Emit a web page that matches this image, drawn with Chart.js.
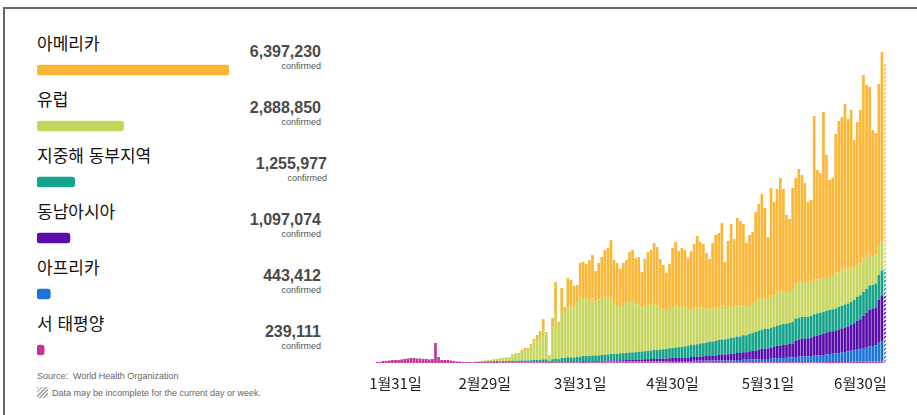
<!DOCTYPE html>
<html lang="ko">
<head>
<meta charset="utf-8">
<script src="https://cdn.jsdelivr.net/npm/chart.js@4.4.1/dist/chart.umd.min.js"></script>
<style>
  body { margin: 0; width: 917px; height: 415px; background: #fff; overflow: hidden; position: relative;
         font-family: "Noto Sans CJK KR", "Noto Sans", sans-serif; }
  #frame { position: absolute; left: 3px; top: 7px; width: 914px; height: 410px;
           border-top: 2px solid #666; border-left: 2px solid #666; box-sizing: border-box; }
  .region { position: absolute; left: 37px; font-size: 17px; line-height: 20px; color: #111; white-space: nowrap; }
  .total { position: absolute; left: 0; text-align: right; font: bold 16px "Liberation Sans", Arial, sans-serif;
           line-height: 18px; color: #4a4a4a; }
  .conf { position: absolute; left: 0; text-align: right; font: 9px "Liberation Sans", Arial, sans-serif;
          line-height: 10px; color: #555; }
  #source { position: absolute; left: 37px; top: 371px; font: 9px "Liberation Sans", Arial, sans-serif; color: #666; }
  #note { position: absolute; left: 37px; top: 387px; font: 9px "Liberation Sans", Arial, sans-serif; color: #666; }
  #note i { display: inline-block; width: 11px; height: 11px; vertical-align: -2px; margin-right: 4px;
            background: repeating-linear-gradient(135deg, #aaa 0 1.2px, #eee 1.2px 3px); }
  #totals { position: absolute; left: 37px; top: 42px; }
  #daily { position: absolute; left: 366px; top: 40px; }
</style>
</head>
<body>
<div id="frame"></div>
<div id="panel"></div>
<div id="source">Source:&nbsp; World Health Organization</div>
<div id="note"><i></i>Data may be incomplete for the current day or week.</div>
<canvas id="totals" width="192" height="336"></canvas>
<canvas id="daily" width="530" height="363"></canvas>
<script>
// 지역별 누적 확진자
const regions = ['아메리카', '유럽', '지중해 동부지역', '동남아시아', '아프리카', '서 태평양'];
const totals = [6397230, 2888850, 1255977, 1097074, 443412, 239111];
const colors = ['#FCB634', '#C6D55E', '#15A38B', '#5A0DAA', '#1C74D9', '#C2349A'];

// 일별 신규 확진 (1월25일 ~ 7월8일, 그림에서 읽은 값)
const startDay = new Date(2020, 0, 25);
const tickLabels = ['1월31일', '2월29일', '3월31일', '4월30일', '5월31일', '6월30일'];

const westernPacific = [
  1,1,2,2,2.5,3,3,3,3.5,4, 4.5,5,5,4.5,4.5,4,4,3.5,4,20,
  6,3,3,3,2.5,2,1.5,1.5,1,1, 1,0.8,1,1,1,1,1,1,1,1,
  0.8,0.8,0.8,0.8,0.8,0.8,0.8,0.8,0.8,0.7, 0.7,0.7,0.7,0.7,0.7,0.7,0.5,0.7,0.8,0.7,
  0.8,0.8,0.9,0.8,0.8,0.7,0.8,0.9,0.8,0.8, 0.8,0.8,0.7,0.8,0.9,0.8,0.8,0.8,0.7,0.8,
  0.8,0.9,0.8,0.8,0.8,0.7,0.8,0.8,0.9,0.8, 0.8,0.8,0.8,0.7,0.8,0.8,0.9,0.8,0.8,0.8,
  0.8,0.7,0.8,0.8,0.8,0.9,0.8,0.8,0.8,0.8, 0.7,0.8,0.8,0.9,0.8,0.8,0.8,0.8,0.7,0.8,
  0.8,0.8,0.9,0.8,0.8,0.8,0.7,0.8,0.8,0.8, 0.9,0.8,0.8,0.8,0.8,0.7,0.8,0.8,0.9,0.8,
  0.8,0.8,0.8,0.8,0.8,0.8,1,1,1,1, 1,1,1,1,1.2,1.2,1.2,1.2,1.2,1.2,
  1.5,1.5,1.5,1.5,1.5,1.5
];
const africa = [
  0,0,0,0,0,0,0,0,0,0, 0,0,0,0,0,0,0,0,0,0, 0,0,0,0,0,0,0,0,0,0,
  0,0,0,0,0,0,0,0,0,0, 0,0,0,0,0,0,0,0,0,0,
  0.1,0.1,0.1,0.1,0.1,0.1,0.1,0.2,0.2,0.2, 0.3,0.3,0.3,0.3,0.3,0.3,0.4,0.4,0.4,0.4,
  0.5,0.5,0.5,0.5,0.5,0.6,0.6,0.6,0.6,0.7, 0.7,0.7,0.7,0.8,0.8,0.8,0.8,0.9,0.9,0.9,
  1,1,1,1,1,1.1,1.1,1.1,1.2,1.2, 1.2,1.3,1.3,1.4,1.4,1.5,1.5,1.6,1.6,1.7,
  1.7,1.8,1.8,1.8,1.9,2,2,2.2,2.2,2.4, 2.4,2.6,2.6,2.8,3,3.2,3.2,3.3,3.5,3.7,
  4,4,4.2,4.4,4.6,4.8,5.2,5.4,5.6,5.8, 6,6.2,6.5,6.8,7,7.3,7.6,8,8.3,8.6,
  9,9.5,10,10.5,11,11.5,12,12.5,13,14, 15,15.5,16,19.5,20,21
];
const southEastAsia = [
  0,0,0,0,0,0,0,0,0,0, 0,0,0,0,0,0,0,0,0,0, 0,0,0,0,0,0,0,0,0,0,
  0,0,0,0,0,0,0,0,0,0, 0,0,0,0,0,0,0,0,0,0,
  0.1,0.2,0.2,0.3,0.3,0.3,0.2,0.3,0.3,0.3, 0.4,0.4,0.5,0.5,0.5,0.5,0.6,0.6,0.7,0.7,
  0.7,0.7,0.8,0.8,0.8,1,1,1,1.2,1.2, 1.3,1.5,1.5,1.5,1.6,1.7,1.8,2,2,2.2,
  2.3,2.4,2.5,2.5,2.6,2.8,3,3,3.2,3.3, 3.5,3.5,3.8,4,4,4.2,4.5,4.5,4.8,5,
  5.2,5.5,5.8,5.8,6,6.5,6.5,7,7,7.5, 7.5,8,8.5,9,9.5,10,10.5,10.5,11,11.5,
  12,12.5,13,13,13.5,14,16.5,17,17.5,18, 18,18.5,19.5,20,20.5,21,21.5,22,22.5,23,
  23.5,24,24.5,25,26,27,29,30,33,35, 37,37,38,42,46,47
];
const easternMed = [
  0,0,0,0,0,0,0,0,0,0, 0,0,0,0,0,0,0,0,0,0, 0,0,0,0,0,0,0,0,0,0,
  0,0,0.3,0.3,0.5,0.5,0.7,0.8,1,1, 1,1.2,1.2,1.2,1.5,1.5,1.5,1.7,1.7,1.8,
  1.8,2,2,2,2.3,2.3,1.5,2.5,3,2.5, 3.5,3.5,4,4,4,4.5,4.5,5,5,5,
  5.5,5.5,5.5,6,6,6,6.5,6.5,6.5,7, 7,7,7.5,7.5,7.5,8,8,8,8.5,8.5,
  9,9,9,9.5,9.5,10,10,10.5,10.5,11, 11,11.5,12,12,12.5,13,13,13.5,14,14,
  14.5,15,15,15,15.5,16,16,16.5,16.5,17, 17,17.5,18,18.5,19,19,19.5,19.5,20,20,
  20.5,21,21,21,21,21.5,22,22,22,21.5, 21.5,21.5,22,22,22,22,22,22,22,22,
  22.5,22.5,23,23,23,23.5,24,24,24,24, 24,24,24,25,25,24
];
const europe = [
  0,0,0,0,0,0,0,0,0,0, 0,0,0,0,0,0,0,0,0,0, 0,0,0,0,0,0,0,0,0,0,
  0,0,0.2,0.2,0.5,1,1.3,1.2,2,2, 3,3,3.5,3.8,6.2,7.2,7,9.5,11.5,11.5,
  14.8,18.6,21,24,30,25,5.8,32,44,33, 48,47,50,52,50,56,60,58,58,57,
  57,54,56,57,58,56,57,50,48,46, 50,52,50,52,48,47,44,45,46,45,
  46,44,42,40,38,40,41,42,40,40, 38,36,36,36,37,36,35,33,32,34,
  34,33,34,30,31,31,30,31,30,30, 28,29,30,31,31,32,31,29,32,32,
  33,34,33,31,31,33,34,35,35,35, 34,35,35,34,34,35,34,33,33,35,
  36,36,36,34,33,32,32,32,33,32, 31,29,28,29,28,28
];
const americas = [
  0,0,0,0,0,0,0,0,0,0, 0,0,0,0,0,0,0,0,0,0, 0,0,0,0,0,0,0,0,0,0,
  0,0,0,0,0,0,0,0,0,0, 0.2,0.2,0.2,0.3,0.5,0.5,0.7,1,1,1,
  1.5,2.4,4,4.9,10.6,2.6,0,9.3,32.7,4.3, 22,4,29.4,25.4,21.4,15.9,33.7,36.2,34.1,39.1,
  43.5,30.5,36.4,40.9,46.9,50.6,57.1,44.1,42.9,38.3, 40.2,41,50.5,50.4,46.3,47.7,35.6,47.3,52.8,55.6,
  60.9,58.8,48.7,44.2,38.1,44.3,59.1,63.6,56.3,58.7, 58.5,51.9,58.1,64.8,71.3,65.5,64.2,56.6,50.8,64.5,
  71.8,73.9,82.6,47.6,66.8,82.7,68.7,87.5,85.5,81.3, 64.3,70.1,71.1,88.9,95.7,104,90,62.9,107.7,93,
  103.7,112.7,102,77.8,73.1,100.9,106.5,113.8,107.1,98.9, 80.7,81,163.2,109.4,105.7,164.9,121.9,97,98.2,139.4,
  150,153,164.5,150.5,158.8,127.8,142.8,153.3,183.8,171.8, 167.5,126,122.5,162,190.5,177.5
];

const days = americas.map((_, i) => {
  const d = new Date(startDay.getFullYear(), startDay.getMonth(), startDay.getDate() + i);
  return (d.getMonth() + 1) + '월' + d.getDate() + '일';
});

// 왼쪽 텍스트
const panel = document.getElementById('panel');
const numberShift = [0, 0, 6, 0, 0, 0];
regions.forEach((r, k) => {
  const y = 56 * k;
  panel.insertAdjacentHTML('beforeend',
    `<div class="region" style="top:${33 + y}px">${r}</div>` +
    `<div class="total" style="top:${43 + y}px;width:${321 + numberShift[k]}px">${totals[k].toLocaleString('en-US')}</div>` +
    `<div class="conf" style="top:${61 + y}px;width:${321 + numberShift[k]}px">confirmed</div>`);
});

new Chart(document.getElementById('totals'), {
  type: 'bar',
  data: {
    labels: regions,
    datasets: [{ data: totals, backgroundColor: colors, barThickness: 10, borderRadius: 3, borderSkipped: false }]
  },
  options: {
    indexAxis: 'y', responsive: false, animation: false, devicePixelRatio: 1,
    plugins: { legend: { display: false }, tooltip: { enabled: false } },
    scales: { x: { display: false, min: 0, max: totals[0] }, y: { display: false } }
  }
});

// 마지막 날은 빗금
function hatch(color) {
  const c = document.createElement('canvas');
  c.width = 4; c.height = 4;
  const g = c.getContext('2d');
  g.fillStyle = '#fff'; g.fillRect(0, 0, 4, 4);
  g.strokeStyle = color; g.lineWidth = 1.4;
  g.beginPath(); g.moveTo(-1, 5); g.lineTo(5, -1); g.stroke();
  return g.createPattern(c, 'repeat');
}

const series = [
  [westernPacific, colors[5]], [africa, colors[4]], [southEastAsia, colors[3]],
  [easternMed, colors[2]], [europe, colors[1]], [americas, colors[0]]
];

new Chart(document.getElementById('daily'), {
  type: 'bar',
  data: {
    labels: days,
    datasets: series.map(([vals, col], k) => ({
      label: regions[5 - k],
      data: vals,
      backgroundColor: vals.map((_, i) => i === vals.length - 1 ? hatch(col) : col),
      borderWidth: 0,
      categoryPercentage: 1,
      barPercentage: 0.86
    }))
  },
  options: {
    responsive: false, animation: false, devicePixelRatio: 1,
    layout: { padding: 0 },
    plugins: { legend: { display: false }, tooltip: { enabled: false } },
    scales: {
      x: {
        stacked: true,
        grid: { display: false, drawTicks: false },
        border: { display: false },
        ticks: {
          autoSkip: false, maxRotation: 0, minRotation: 0, padding: 11,
          color: '#222', font: { family: '"Noto Sans CJK KR", sans-serif', size: 15 },
          callback: (v, i) => tickLabels.includes(days[i]) ? days[i] : ''
        }
      },
      y: { stacked: true, display: false, min: 0, max: 323 }
    }
  }
});
</script>
</body>
</html>
